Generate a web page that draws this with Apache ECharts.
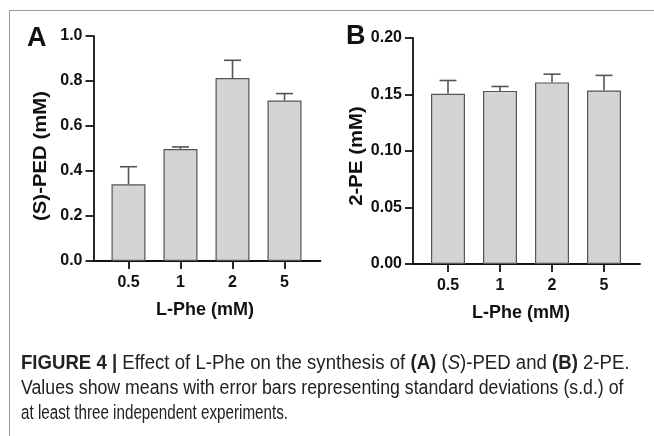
<!DOCTYPE html>
<html><head><meta charset="utf-8">
<script src="https://cdn.jsdelivr.net/npm/echarts@6/dist/echarts.min.js"></script>
<style>html,body{margin:0;padding:0;background:#fff}#c{width:654px;height:436px}</style>
</head><body><div id="c"></div>
<script>
const categories = ['0.5', '1', '2', '5'];
const pedMean = [0.341, 0.498, 0.813, 0.713];
const pedSD = [0.078, 0.009, 0.079, 0.031];
const peMean = [0.1506, 0.1532, 0.1607, 0.1536];
const peSD = [0.0118, 0.0039, 0.0073, 0.0133];
const pedTicks = [0, 0.2, 0.4, 0.6, 0.8, 1.0];
const peTicks = [0, 0.05, 0.10, 0.15, 0.20];

const chart = echarts.init(document.getElementById('c'), null, {renderer: 'canvas'});
const FONT = 'Liberation Sans, Arial, sans-serif';
const idx = categories.map((c, i) => i);

function xAxis(grid) {
  return {
    type: 'value', gridIndex: grid, min: -0.673, max: 3.692,
    axisLine: {show: true, lineStyle: {color: '#111', width: 1.8}},
    axisTick: {show: true, customValues: idx, length: 8, lineStyle: {color: '#111', width: 1.8}},
    axisLabel: {show: true, customValues: idx, formatter: v => categories[Math.round(v)] || '',
      color: '#111', fontWeight: 'bold', fontSize: 16, fontFamily: FONT, margin: 14},
    splitLine: {show: false}
  };
}
function yAxis(grid, ticks, max, interval, digits) {
  return {
    type: 'value', gridIndex: grid, min: 0, max: max, interval: interval,
    axisLine: {show: true, onZero: false, lineStyle: {color: '#111', width: 1.8}},
    axisTick: {show: true, length: 8, lineStyle: {color: '#111', width: 1.8}},
    axisLabel: {color: '#111', fontWeight: 'bold', fontSize: 16, fontFamily: FONT, margin: 11,
      formatter: v => v.toFixed(digits)},
    splitLine: {show: false}
  };
}
function bars(grid, mean) {
  return {
    type: 'bar', xAxisIndex: grid, yAxisIndex: grid, barWidth: 34,
    data: mean.map((m, i) => [i, m]),
    itemStyle: {color: '#d4d4d4', borderColor: '#555', borderWidth: 1.2},
    silent: true, animation: false
  };
}
function errs(grid, mean, sd) {
  return {
    type: 'custom', xAxisIndex: grid, yAxisIndex: grid, silent: true, animation: false,
    data: mean.map((m, i) => [i, m, m + sd[i]]),
    renderItem: function (params, api) {
      const x = api.value(0);
      const p0 = api.coord([x, api.value(1)]);
      const p1 = api.coord([x, api.value(2)]);
      const st = {stroke: '#555', lineWidth: 1.6};
      return {type: 'group', children: [
        {type: 'line', shape: {x1: p0[0], y1: p0[1], x2: p1[0], y2: p1[1]}, style: st},
        {type: 'line', shape: {x1: p1[0] - 8.5, y1: p1[1], x2: p1[0] + 8.5, y2: p1[1]}, style: st}
      ]};
    },
    z: 3
  };
}

const CS = 20;
const capStyle = {fontSize: CS, fontFamily: FONT, fill: '#222'};
const rich = {
  b: {fontWeight: 'bold', fontSize: CS, fontFamily: FONT, fill: '#222'},
  i: {fontStyle: 'italic', fontSize: CS, fontFamily: FONT, fill: '#222'},
  n: {fontSize: CS, fontFamily: FONT, fill: '#222'}
};

chart.setOption({
  animation: false,
  grid: [
    {left: 93.5, top: 36, width: 227, height: 225},
    {left: 413, top: 38, width: 227, height: 226}
  ],
  xAxis: [xAxis(0), xAxis(1)],
  yAxis: [yAxis(0, pedTicks, 1.0, 0.2, 1), yAxis(1, peTicks, 0.2, 0.05, 2)],
  series: [bars(0, pedMean), errs(0, pedMean, pedSD), bars(1, peMean), errs(1, peMean, peSD)],
  graphic: [
    {type: 'line', shape: {x1: 9.5, y1: 10.5, x2: 654, y2: 10.5}, style: {stroke: '#999', lineWidth: 1}},
    {type: 'line', shape: {x1: 9.5, y1: 10.5, x2: 9.5, y2: 436}, style: {stroke: '#999', lineWidth: 1}},
    {type: 'text', x: 27, y: 39, style: {text: 'A', font: 'bold 27px ' + FONT, fill: '#111', verticalAlign: 'middle'}},
    {type: 'text', x: 346, y: 37, style: {text: 'B', font: 'bold 27px ' + FONT, fill: '#111', verticalAlign: 'middle'}},
    {type: 'text', x: 41, y: 156, rotation: Math.PI / 2, scaleX: 1.13,
      style: {text: '(S)-PED (mM)', font: 'bold 18px ' + FONT, fill: '#111', align: 'center', verticalAlign: 'middle'}},
    {type: 'text', x: 357, y: 156, rotation: Math.PI / 2, scaleX: 1.13,
      style: {text: '2-PE (mM)', font: 'bold 18px ' + FONT, fill: '#111', align: 'center', verticalAlign: 'middle'}},
    {type: 'text', x: 205, y: 310, style: {text: 'L-Phe (mM)', font: 'bold 18px ' + FONT, fill: '#111', align: 'center', verticalAlign: 'middle'}},
    {type: 'text', x: 521, y: 313, style: {text: 'L-Phe (mM)', font: 'bold 18px ' + FONT, fill: '#111', align: 'center', verticalAlign: 'middle'}},
    {type: 'text', x: 21, y: 363, scaleX: 0.93,
      style: Object.assign({}, capStyle, {verticalAlign: 'middle', rich: rich,
        text: '{b|FIGURE 4 |}{n| Effect of L-Phe on the synthesis of }{b|(A)}{n| (}{i|S}{n|)-PED and }{b|(B)}{n| 2-PE.}'})},
    {type: 'text', x: 21, y: 388, scaleX: 0.886,
      style: Object.assign({}, capStyle, {verticalAlign: 'middle',
        text: 'Values show means with error bars representing standard deviations (s.d.) of'})},
    {type: 'text', x: 21, y: 413, scaleX: 0.76,
      style: Object.assign({}, capStyle, {verticalAlign: 'middle',
        text: 'at least three independent experiments.'})}
  ]
});
</script></body></html>
